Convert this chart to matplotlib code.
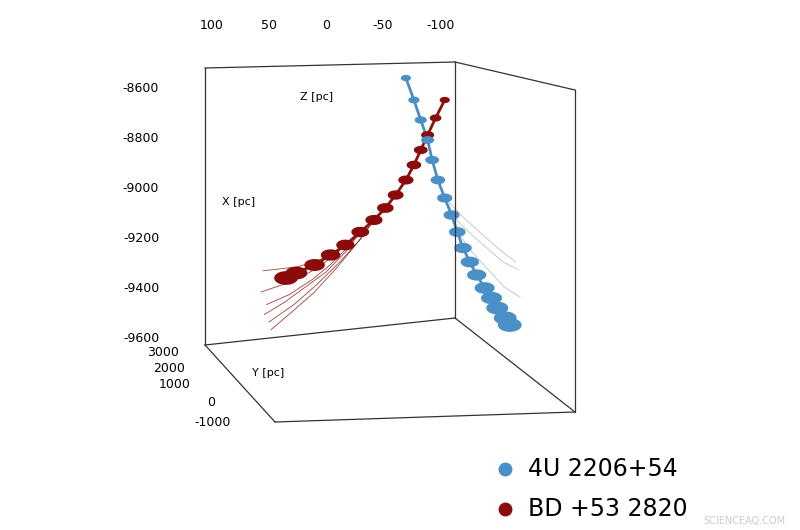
import numpy as np
import matplotlib
matplotlib.use('Agg')
from matplotlib import pyplot as plt
from matplotlib.path import Path
from matplotlib.lines import Line2D

plt.rcParams['axes.unicode_minus'] = False

# trajectories, Z [pc] vs X [pc] as seen in the projected view
blueZ = [-70, -77, -83, -89, -93, -98, -104, -110, -115, -120, -126, -132, -139, -145, -150, -157, -161]
blueX = [-8564, -8652, -8732, -8812, -8892, -8972, -9044, -9112, -9180, -9244, -9300, -9352, -9404, -9444, -9484, -9524, -9552]
blueSize = [40, 50, 60, 70, 80, 90, 100, 110, 120, 135, 150, 165, 180, 200, 220, 240, 260]
redZ = [-104, -96, -89, -83, -77, -70, -61, -52, -42, -30, -17, -4, 10, 26, 35]
redX = [-8652, -8724, -8792, -8852, -8912, -8972, -9032, -9084, -9132, -9180, -9232, -9272, -9312, -9344, -9364]
redSize = [40, 55, 70, 80, 90, 100, 110, 120, 130, 140, 150, 170, 190, 220, 260]

redTails = [
    ([-17, -4, 10, 26, 45, 55], [-9232, -9270, -9300, -9320, -9330, -9335]),
    ([-17, -4, 10, 26, 44, 57], [-9235, -9285, -9330, -9370, -9400, -9420]),
    ([-30, -17, -4, 12, 32, 52], [-9180, -9250, -9310, -9370, -9430, -9470]),
    ([-30, -17, 0, 18, 36, 54], [-9180, -9260, -9340, -9400, -9460, -9510]),
    ([-42, -30, -12, 8, 28, 50], [-9132, -9210, -9300, -9390, -9470, -9540]),
    ([-42, -28, -10, 10, 30, 48], [-9132, -9220, -9320, -9420, -9500, -9570]),
]
blueTails = [
    ([-110, -125, -140, -155, -168], [-9112, -9180, -9240, -9300, -9330]),
    ([-104, -120, -137, -152, -166], [-9044, -9120, -9190, -9250, -9300]),
    ([-115, -128, -142, -156, -170], [-9180, -9260, -9330, -9400, -9440]),
]

W, H = 800, 530
fig = plt.figure(figsize=(8, 5.3), dpi=100)

def fx(px):
    return px / W

def fy(py):
    return 1 - py / H

# box in the projected view (pixel coords)
box = [((205, 68), (455, 62)), ((205, 68), (205, 345)), ((455, 62), (455, 318)),
       ((455, 62), (575, 90)), ((575, 90), (575, 412)), ((205, 345), (275, 422)),
       ((275, 422), (575, 412)), ((455, 318), (575, 412)), ((205, 345), (455, 318))]
for (x0, y0), (x1, y1) in box:
    fig.add_artist(Line2D([fx(x0), fx(x1)], [fy(y0), fy(y1)], color='#333333', lw=0.9))

ax = fig.add_axes([fx(205), fy(345), fx(455) - fx(205), fy(68) - fy(345)])
ax.patch.set_alpha(0)
ax.set_xlim(106, -113)
ax.set_ylim(-9632, -8524)
for s in ax.spines.values():
    s.set_visible(False)
ax.xaxis.tick_top()
ax.set_xticks([100, 50, 0, -50, -100])
ax.set_yticks([-8600, -8800, -9000, -9200, -9400, -9600])
ax.tick_params(length=0, labelsize=9, pad=26)
ax.tick_params(axis='y', pad=33)

t = np.linspace(0, 2 * np.pi, 40)
ell = Path(np.column_stack([np.cos(t), 0.55 * np.sin(t)]))

for zs, xs in redTails:
    ax.plot(zs, xs, color='#8b1010', lw=0.6, alpha=0.8, clip_on=False)
for zs, xs in blueTails:
    ax.plot(zs, xs, color='#b0bcc4', lw=0.6, alpha=0.9, clip_on=False)
ax.plot(redZ, redX, color='#8b1010', lw=2, clip_on=False)
ax.plot(blueZ, blueX, color='#4a8fc4', lw=2, clip_on=False)
ax.scatter(redZ, redX, s=redSize, marker=ell, color='#8b0a0a', clip_on=False, zorder=3)
ax.scatter(blueZ, blueX, s=blueSize, marker=ell, color='#4a90c8', clip_on=False, zorder=3)

fig.text(fx(300), fy(97), 'Z [pc]', fontsize=8, va='center')
fig.text(fx(222), fy(202), 'X [pc]', fontsize=8, va='center')
fig.text(fx(252), fy(373), 'Y [pc]', fontsize=8, va='center')

yticks = ['3000', '2000', '1000', '0', '-1000']
ypos = [(179, 352), (185, 368), (191, 384), (215, 402), (231, 422)]
for lab, (px, py) in zip(yticks, ypos):
    fig.text(fx(px), fy(py), lab, fontsize=9, ha='right', va='center')

fig.add_artist(Line2D([fx(505)], [fy(469)], marker='o', ms=9, color='#4a90c8', lw=0))
fig.add_artist(Line2D([fx(505)], [fy(509)], marker='o', ms=9, color='#8b0a0a', lw=0))
fig.text(fx(528), fy(469), '4U 2206+54', fontsize=17, va='center')
fig.text(fx(528), fy(509), 'BD +53 2820', fontsize=17, va='center')
fig.text(fx(703), fy(521), 'SCIENCEAQ.COM', fontsize=7, color='#cccccc', va='center')

fig.savefig('out.png', dpi=100)
